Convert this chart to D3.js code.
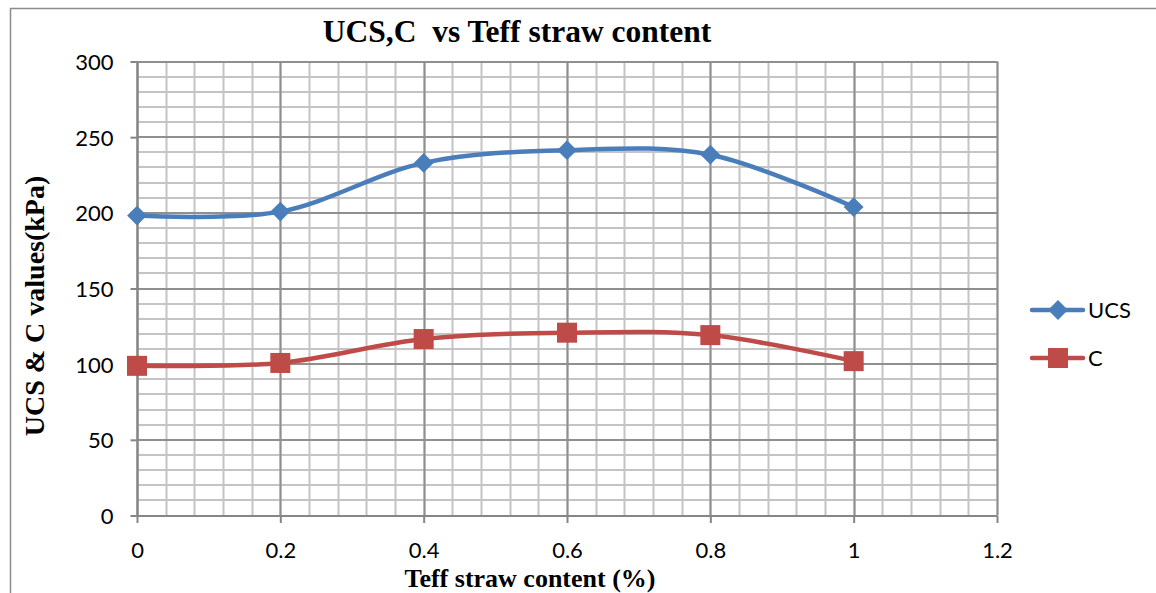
<!DOCTYPE html>
<head>
  <meta charset="utf-8">
  <script src="https://cdn.jsdelivr.net/npm/d3@7"></script>
  <style>
    body { margin:0; background:#fff; }
    .tick-label { font-family: Lato, "Open Sans", sans-serif; font-size: 22px; fill:#000; }
    .serif-bold { font-family: "Liberation Serif", "Times New Roman", serif; font-weight: bold; fill:#000; white-space: pre; }
  </style>
</head>
<body>
  <script>
    // data
    var content = [0, 0.2, 0.4, 0.6, 0.8, 1];
    var ucs = [198.2, 200.8, 233, 241.4, 238.4, 203.8];
    var cValues = [98.9, 100.8, 116.6, 120.8, 119.2, 102];
    var xTicks = [0, 0.2, 0.4, 0.6, 0.8, 1, 1.2];
    var yTicks = [0, 50, 100, 150, 200, 250, 300];
    var seriesNames = ["UCS", "C"];

    var width = 1156, height = 593;

    var svg = d3.select("body").append("svg")
      .attr("width", width)
      .attr("height", height);

    // chart border
    svg.append("rect")
      .attr("x", 10.5).attr("y", 8.5)
      .attr("width", width).attr("height", height)
      .attr("fill", "none").attr("stroke", "#8c8c8c").attr("stroke-width", 1.5);

    var x = d3.scaleLinear().domain([0, 1.2]).range([137, 997]);
    var y = d3.scaleLinear().domain([0, 300]).range([515.5, 61.5]);

    // minor grid
    var minorX = d3.range(0, 1.2001, 0.04);
    var minorY = d3.range(0, 300.001, 10);
    svg.append("g").selectAll("line").data(minorX).enter().append("line")
      .attr("x1", function(d) { return Math.round(x(d)) + 0.5; })
      .attr("x2", function(d) { return Math.round(x(d)) + 0.5; })
      .attr("y1", y(0)).attr("y2", y(300))
      .attr("stroke", "#c4c4c4").attr("stroke-width", 2);
    svg.append("g").selectAll("line").data(minorY).enter().append("line")
      .attr("y1", function(d) { return Math.round(y(d)); })
      .attr("y2", function(d) { return Math.round(y(d)); })
      .attr("x1", x(0)).attr("x2", x(1.2))
      .attr("stroke", "#c4c4c4").attr("stroke-width", 2);

    // major grid
    svg.append("g").selectAll("line").data(xTicks).enter().append("line")
      .attr("x1", function(d) { return Math.round(x(d)) + 0.5; })
      .attr("x2", function(d) { return Math.round(x(d)) + 0.5; })
      .attr("y1", y(0)).attr("y2", y(300))
      .attr("stroke", "#8f8f8f").attr("stroke-width", 2);
    svg.append("g").selectAll("line").data(yTicks).enter().append("line")
      .attr("y1", function(d) { return Math.round(y(d)); })
      .attr("y2", function(d) { return Math.round(y(d)); })
      .attr("x1", x(0)).attr("x2", x(1.2))
      .attr("stroke", "#8f8f8f").attr("stroke-width", 2);

    // axes
    var xAxis = d3.axisBottom(x).tickValues(xTicks).tickSize(7).tickFormat(d3.format("~g"));
    var yAxis = d3.axisLeft(y).tickValues(yTicks).tickSize(7).tickFormat(d3.format("d"));

    var gx = svg.append("g").attr("transform", "translate(0," + Math.round(y(0)) + ")").call(xAxis);
    var gy = svg.append("g").attr("transform", "translate(" + (Math.round(x(0)) + 0.5) + ",0)").call(yAxis);
    [gx, gy].forEach(function(g) {
      g.attr("font-family", null).attr("font-size", null);
      g.select(".domain").attr("stroke", "#868686").attr("stroke-width", 2);
      g.selectAll(".tick line").attr("stroke", "#868686").attr("stroke-width", 2);
      g.selectAll(".tick text").attr("class", "tick-label").attr("fill", "#000");
    });
    gx.select(".domain").attr("d", "M" + x(0) + ",0H" + x(1.2));
    gy.select(".domain").attr("d", "M0," + y(0) + "V" + y(300));
    gx.selectAll(".tick text").attr("dy", 0).attr("y", 42);
    gy.selectAll(".tick text").attr("x", -24).attr("dy", "0.36em");

    // series
    var colors = ["#4a7ebb", "#be4b48"];
    var allSeries = [ucs, cValues];
    var line = d3.line()
      .x(function(d, i) { return x(content[i]); })
      .y(function(d) { return y(d); })
      .curve(d3.curveCardinal.tension(0));

    allSeries.forEach(function(vals, s) {
      svg.append("path")
        .datum(vals)
        .attr("d", line)
        .attr("fill", "none")
        .attr("stroke", colors[s])
        .attr("stroke-width", 4.5)
        .attr("stroke-linecap", "round");
    });

    var diamond = d3.symbol().type(d3.symbolDiamond2).size(250);
    svg.append("g").selectAll("path").data(ucs).enter().append("path")
      .attr("transform", function(d, i) { return "translate(" + x(content[i]) + "," + y(d) + ")"; })
      .attr("d", diamond)
      .attr("fill", colors[0]);

    svg.append("g").selectAll("rect").data(cValues).enter().append("rect")
      .attr("x", function(d, i) { return x(content[i]) - 10; })
      .attr("y", function(d) { return y(d) - 10; })
      .attr("width", 20).attr("height", 20)
      .attr("fill", colors[1]);

    // legend
    var legend = svg.append("g");
    seriesNames.forEach(function(name, s) {
      var ly = 310 + s * 48;
      legend.append("line")
        .attr("x1", 1032).attr("x2", 1083).attr("y1", ly).attr("y2", ly)
        .attr("stroke", colors[s]).attr("stroke-width", 4.5).attr("stroke-linecap", "round");
      if (s === 0) {
        legend.append("path").attr("transform", "translate(1058," + ly + ")")
          .attr("d", diamond).attr("fill", colors[0]);
      } else {
        legend.append("rect").attr("x", 1048).attr("y", ly - 10).attr("width", 20).attr("height", 20)
          .attr("fill", colors[1]);
      }
      legend.append("text").attr("class", "tick-label")
        .attr("x", 1088).attr("y", ly).attr("dy", "0.36em")
        .text(name);
    });

    // title and axis titles
    svg.append("text").attr("class", "serif-bold")
      .attr("x", 517).attr("y", 42).attr("text-anchor", "middle")
      .style("font-size", "31.5px")
      .text("UCS,C  vs Teff straw content");
    svg.append("text").attr("class", "serif-bold")
      .attr("x", 530).attr("y", 587).attr("text-anchor", "middle")
      .style("font-size", "26px")
      .text("Teff straw content (%)");
    svg.append("text").attr("class", "serif-bold")
      .attr("transform", "translate(44,306) rotate(-90)")
      .attr("text-anchor", "middle")
      .style("font-size", "28px")
      .text("UCS & C values(kPa)");
  </script>
</body>
